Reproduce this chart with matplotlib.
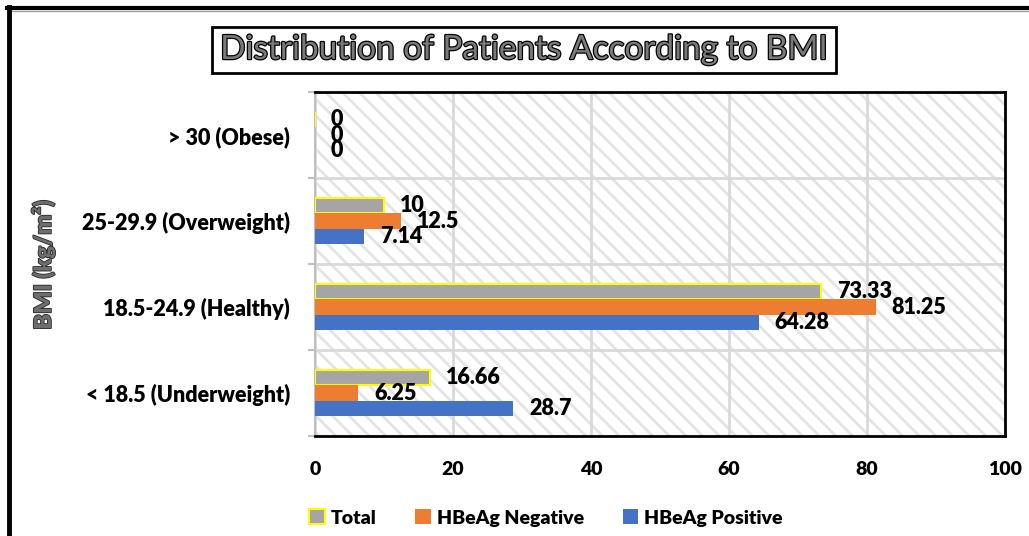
import matplotlib
matplotlib.use("Agg")
import matplotlib.pyplot as plt
import numpy as np
from matplotlib.patches import Rectangle
from matplotlib.lines import Line2D
import matplotlib.patheffects as pe

categories = ["< 18.5 (Underweight)", "18.5-24.9 (Healthy)", "25-29.9 (Overweight)", "> 30 (Obese)"]
total = [16.66, 73.33, 10, 0]
negative = [6.25, 81.25, 12.5, 0]
positive = [28.7, 64.28, 7.14, 0]
total_labels = ["16.66", "73.33", "10", "0"]
negative_labels = ["6.25", "81.25", "12.5", "0"]
positive_labels = ["28.7", "64.28", "7.14", "0"]
xticks = [0, 20, 40, 60, 80, 100]

FONT = "Lato"
plt.rcParams['font.family'] = [FONT, 'DejaVu Sans']
plt.rcParams['hatch.linewidth'] = 2.0
plt.rcParams['hatch.color'] = '#E4E4E4'
WT = 'heavy'

W, H = 1029, 536
fig = plt.figure(figsize=(W/100, H/100), dpi=100)
ax = fig.add_axes([315/W, 1-436/H, (1005-315)/W, (436-92)/H])

y = np.arange(len(categories))
bh = 0.18
ax.add_patch(Rectangle((0, 0), 1, 1, transform=ax.transAxes, facecolor='white',
                       edgecolor='#E4E4E4', lw=0, hatch='\\\\', zorder=0))

b1 = ax.barh(y + bh, total, height=bh, color='#A5A5A5', edgecolor='#FFFF00', linewidth=1.5, zorder=3, label='Total')
b2 = ax.barh(y, negative, height=bh, color='#ED7D31', edgecolor='#ED7D31', linewidth=0, zorder=3, label='HBeAg Negative')
b3 = ax.barh(y - bh, positive, height=bh, color='#4472C4', edgecolor='#4472C4', linewidth=0, zorder=3, label='HBeAg Positive')

for bars, labs in ((b1, total_labels), (b2, negative_labels), (b3, positive_labels)):
    for rect, lab in zip(bars, labs):
        ax.annotate(lab, (rect.get_width(), rect.get_y() + rect.get_height()/2),
                    xytext=(11.5, 0), textcoords='offset points', va='center', ha='left',
                    fontsize=15.5, fontweight=WT, color='black', zorder=5)

ax.set_xlim(0, 100)
ax.set_ylim(-0.5, len(categories) - 0.5)
ax.set_xticks(xticks)
ax.set_xticklabels([str(v) for v in xticks], fontsize=14, fontweight=WT)
ax.set_yticks(y)
ax.set_yticklabels(categories, fontsize=15.5, fontweight=WT)
ax.set_yticks(np.arange(-0.5, len(categories)), minor=True)
ax.tick_params(axis='x', length=0, pad=18)
ax.tick_params(axis='y', which='major', length=0, pad=18)
ax.tick_params(axis='y', which='minor', length=5, color='#BFBFBF', width=1.5)
ax.grid(axis='x', color='#D9D9D9', lw=2, zorder=1)
ax.grid(axis='y', which='minor', color='#D9D9D9', lw=2, zorder=1)
ax.set_axisbelow(True)
for s in ('top', 'right', 'bottom'):
    ax.spines[s].set_color('black')
    ax.spines[s].set_linewidth(2)
ax.spines['left'].set_color('#BFBFBF')
ax.spines['left'].set_linewidth(1.5)

fig.text(43/W, 1-265/H, "BMI (kg/m²)", rotation=90, ha='center', va='center',
         fontsize=17, fontweight=WT, color='#6E6E6E',
         path_effects=[pe.Stroke(linewidth=1.2, foreground='#262626'), pe.Normal()])

fig.text(524/W, 1-50/H, "Distribution of Patients According to BMI", ha='center', va='center',
         fontsize=24, color='#7A7A7A',
         path_effects=[pe.Stroke(linewidth=1.8, foreground='black'), pe.Normal()],
         bbox=dict(boxstyle='square,pad=0.25', facecolor='white', edgecolor='black', linewidth=2))

leg = fig.legend(handles=[b1, b2, b3], loc='center', bbox_to_anchor=(546/W, 1-518/H), ncol=3,
                 frameon=False, prop={'weight': WT, 'size': 14}, handlelength=0.8,
                 handleheight=0.8, handletextpad=0.3, columnspacing=2.0)

fig.add_artist(Line2D([7/W, 1], [1-8/H, 1-8/H], color='black', lw=3, transform=fig.transFigure))
fig.add_artist(Line2D([10/W, 1], [1-10.5/H, 1-10.5/H], color='#A0A0A0', lw=1, transform=fig.transFigure))
fig.add_artist(Line2D([8.5/W, 8.5/W], [0, 1-7/H], color='black', lw=3.5, transform=fig.transFigure))

fig.savefig("out.png", dpi=100)
